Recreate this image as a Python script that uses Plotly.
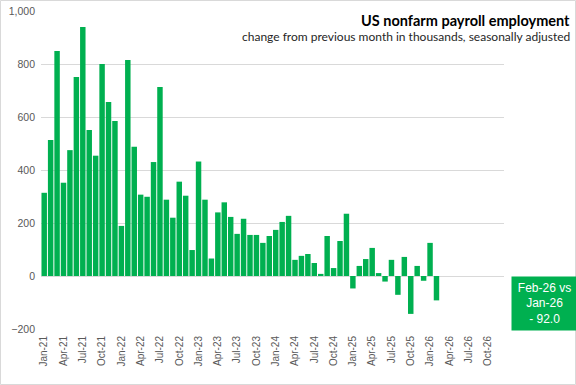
import plotly.graph_objects as go

# Data (thousands, change from previous month)
months = [
    "Jan-21","Feb-21","Mar-21","Apr-21","May-21","Jun-21","Jul-21","Aug-21","Sep-21","Oct-21","Nov-21","Dec-21",
    "Jan-22","Feb-22","Mar-22","Apr-22","May-22","Jun-22","Jul-22","Aug-22","Sep-22","Oct-22","Nov-22","Dec-22",
    "Jan-23","Feb-23","Mar-23","Apr-23","May-23","Jun-23","Jul-23","Aug-23","Sep-23","Oct-23","Nov-23","Dec-23",
    "Jan-24","Feb-24","Mar-24","Apr-24","May-24","Jun-24","Jul-24","Aug-24","Sep-24","Oct-24","Nov-24","Dec-24",
    "Jan-25","Feb-25","Mar-25","Apr-25","May-25","Jun-25","Jul-25","Aug-25","Sep-25","Oct-25","Nov-25","Dec-25",
    "Jan-26","Feb-26",
]
values = [
    314, 513, 849, 352, 475, 751, 940, 551, 454, 800, 657, 585,
    189, 815, 488, 307, 299, 430, 713, 288, 220, 356, 303, 98,
    432, 288, 66, 240, 278, 223, 159, 216, 155, 155, 125, 151,
    174, 204, 227, 61, 76, 83, 49, 8, 151, 30, 132, 235,
    -47, 38, 64, 106, 11, -21, 61, -71, 72, -143, 38, -18,
    125, -92,
]
future_months = ["Mar-26","Apr-26","May-26","Jun-26","Jul-26","Aug-26","Sep-26","Oct-26","Nov-26","Dec-26"]
all_months = months + future_months
tick_labels = all_months[::3]

title = "US nonfarm payroll employment"
subtitle = "change from previous month in thousands, seasonally adjusted"

W, H = 576, 385
L, R, T, B = 41, 72, 11, 56
pw, ph = W - L - R, H - T - B

def px_x(x):
    return (x - L) / pw

def px_y(y):
    return (H - B - y) / ph

fig = go.Figure()
fig.add_trace(go.Bar(
    x=months, y=values,
    marker=dict(color="#00B050", line=dict(width=0)),
    hoverinfo="x+y",
))

fig.update_layout(
    width=W, height=H,
    autosize=False,
    margin=dict(l=L, r=R, t=T, b=B, pad=0, autoexpand=False),
    paper_bgcolor="white", plot_bgcolor="white",
    bargap=0.15,
    showlegend=False,
    font=dict(family="Liberation Sans, Arial", size=10, color="#595959"),
    xaxis=dict(
        type="category",
        categoryorder="array", categoryarray=all_months,
        range=[-0.5, len(all_months) - 0.5],
        tickmode="array", tickvals=tick_labels, ticktext=tick_labels,
        tickangle=-90,
        tickfont=dict(size=10, color="#595959"),
        ticklabelstandoff=4,
        showgrid=False, showline=False, ticks="",
        zeroline=False, automargin=False,
    ),
    yaxis=dict(
        range=[-200, 1000],
        tickvals=[-200, 0, 200, 400, 600, 800, 1000],
        tickformat=",",
        tickfont=dict(size=10.5, color="#595959"),
        ticklabelstandoff=5,
        showgrid=True, gridcolor="#D9D9D9", gridwidth=1,
        zeroline=False, showline=False, ticks="", automargin=False,
    ),
)

fig.add_annotation(
    xref="paper", yref="paper", x=px_x(572), y=px_y(20),
    xanchor="right", yanchor="middle", showarrow=False,
    text="<b>" + title + "</b>",
    font=dict(family="Lato", size=14.5, color="#000000"),
)
fig.add_annotation(
    xref="paper", yref="paper", x=px_x(572), y=px_y(37),
    xanchor="right", yanchor="middle", showarrow=False,
    text=subtitle,
    font=dict(family="Lato", size=12, color="#262626"),
)

last_val = values[-1]
box_text = f"{months[-1]} vs<br>{months[-2]}<br>{'-' if last_val < 0 else '+'} {abs(last_val):.1f}"
fig.add_annotation(
    xref="paper", yref="paper", x=px_x(544.5), y=px_y(303.5),
    xanchor="center", yanchor="middle", showarrow=False,
    text=box_text,
    width=63, height=51, bgcolor="#00B050",
    font=dict(family="Liberation Sans, Arial", size=12, color="white"),
    align="center",
)

# outer chart border
fig.add_shape(
    type="rect", xref="paper", yref="paper",
    x0=px_x(0.5), x1=px_x(W - 0.5), y0=px_y(H - 0.5), y1=px_y(0.5),
    line=dict(color="#D9D9D9", width=1), fillcolor="rgba(0,0,0,0)",
    layer="below",
)

fig.write_html(
    "out.html",
    config={"displayModeBar": False},
    post_script="document.body.style.margin='0';document.body.style.overflow='hidden';",
)
